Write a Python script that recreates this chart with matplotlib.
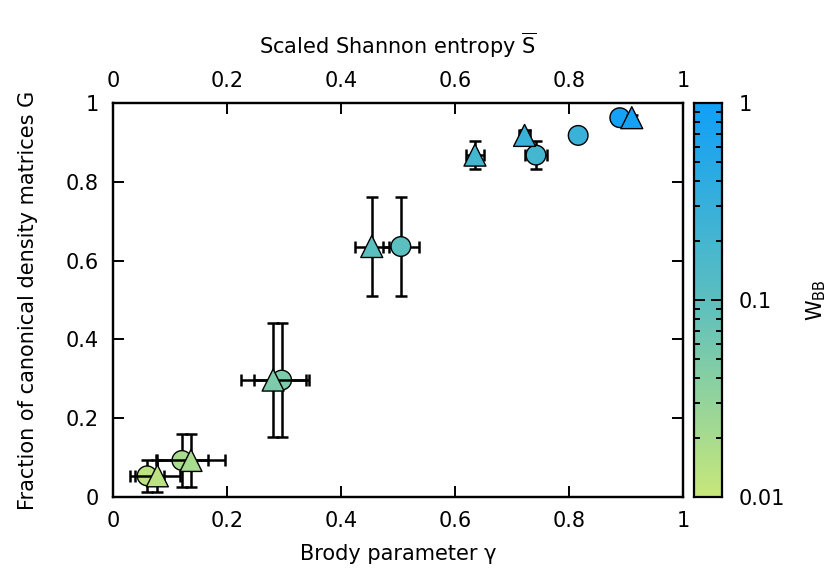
import numpy as np
import matplotlib
matplotlib.use("Agg")
import matplotlib.pyplot as plt
from matplotlib.colors import LinearSegmentedColormap, LogNorm
from matplotlib.ticker import FixedLocator

plt.rcParams['font.family'] = ['DejaVu Sans']
plt.rcParams['font.size'] = 15

# Data: W_BB weights (colour), fraction G (y)
w_bb = [0.013, 0.02, 0.05, 0.1, 0.2, 0.28, 0.9]
g_frac = [0.054, 0.093, 0.297, 0.636, 0.868, 0.918, 0.963]
g_err = [0.04, 0.068, 0.145, 0.126, 0.035, 0.015, 0.006]

# Brody parameter (circles, bottom axis)
brody = [0.060, 0.121, 0.296, 0.505, 0.742, 0.816, 0.889]
brody_err = [0.03, 0.045, 0.048, 0.032, 0.019, 0.008, 0.003]

# Scaled Shannon entropy (triangles, top axis)
shannon = [0.078, 0.137, 0.281, 0.454, 0.635, 0.722, 0.910]
shannon_err = [0.04, 0.06, 0.057, 0.03, 0.016, 0.01, 0.003]

cmap = LinearSegmentedColormap.from_list(
    "wbb", [(0.0, "#c8e87a"), (0.5, "#5cbfbf"), (1.0, "#11a0f8")])
norm = LogNorm(vmin=0.01, vmax=1)

fig = plt.figure(figsize=(8.3, 5.76), dpi=100)
ax = fig.add_axes([0.136, 0.137, 0.687, 0.684])
ax2 = ax.twiny()
cax = fig.add_axes([0.836, 0.137, 0.034, 0.684])

err_kw = dict(fmt='none', ecolor='black', elinewidth=1.8, capsize=4, capthick=1.8)
ax.errorbar(brody, g_frac, xerr=brody_err, yerr=g_err, zorder=2, **err_kw)
ax.scatter(brody, g_frac, c=w_bb, cmap=cmap, norm=norm, marker='o', s=200,
           edgecolors='black', linewidths=1.0, zorder=3)

ax2.errorbar(shannon, g_frac, xerr=shannon_err, yerr=g_err, zorder=2, **err_kw)
ax2.scatter(shannon, g_frac, c=w_bb, cmap=cmap, norm=norm, marker='^', s=250,
            edgecolors='black', linewidths=1.0, zorder=3)

ticks = [0, 0.2, 0.4, 0.6, 0.8, 1]
ticklabels = ['0', '0.2', '0.4', '0.6', '0.8', '1']
for a in (ax, ax2):
    a.set_xlim(0, 1)
    a.set_ylim(0, 1)
    a.set_xticks(ticks)
    a.set_xticklabels(ticklabels)
    for s in a.spines.values():
        s.set_linewidth(1.6)
ax.set_yticks(ticks)
ax.set_yticklabels(ticklabels)
ax.tick_params(axis='both', direction='in', length=8, width=1.4, pad=10,
               right=True)
ax2.tick_params(axis='x', direction='in', length=8, width=1.4, pad=9)

ax.set_xlabel('Brody parameter γ', labelpad=9.5)
ax.set_ylabel('Fraction of canonical density matrices G', labelpad=20)
ax2.set_xlabel('Scaled Shannon entropy $\\mathregular{\\overline{S}}$', labelpad=12)

grad = np.logspace(-2, 0, 256).reshape(-1, 1)
cax.imshow(grad, aspect='auto', cmap=cmap, norm=norm, origin='lower',
           extent=[0, 1, -2, 0])
cax.set_xlim(0, 1)
cax.set_ylim(-2, 0)
cax.set_xticks([])
major = [-2, -1, 0]
minor = [np.log10(m * 10.0 ** e) for e in (-2, -1) for m in range(2, 10)]
cax.yaxis.set_major_locator(FixedLocator(major))
cax.yaxis.set_minor_locator(FixedLocator(minor))
cax.set_yticklabels(['0.01', '0.1', '1'])
cax.yaxis.tick_right()
cax.tick_params(axis='y', which='major', direction='in', length=8, width=1.4,
                left=True, right=True, pad=12)
cax.tick_params(axis='y', which='minor', direction='in', length=4, width=1.4,
                left=True, right=True)
for s in cax.spines.values():
    s.set_linewidth(1.6)
cax.yaxis.set_label_position('right')
cax.set_ylabel('W$_{\\mathregular{BB}}$', labelpad=14)

fig.savefig('out.png', dpi=100)
